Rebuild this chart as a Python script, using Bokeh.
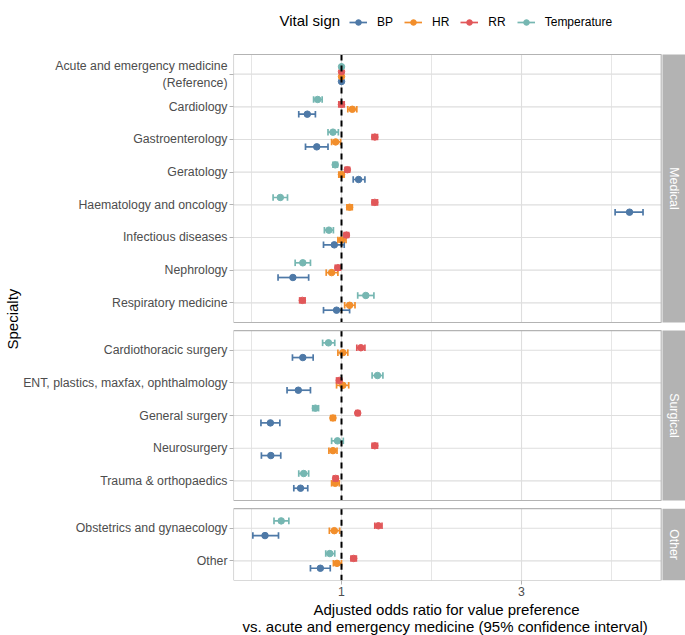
import math
from bokeh.plotting import figure
from bokeh.models import Range1d, FixedTicker, Legend, LegendItem, ColumnDataSource, Title
from bokeh.core.properties import value
from bokeh.embed import file_html
from bokeh.resources import INLINE

# ---------------- data ----------------
groups = ["Medical", "Surgical", "Other"]
medical = ["Acute and emergency medicine\n(Reference)", "Cardiology", "Gastroenterology",
           "Geratology", "Haematology and oncology", "Infectious diseases",
           "Nephrology", "Respiratory medicine"]
surgical = ["Cardiothoracic surgery", "ENT, plastics, maxfax, ophthalmology",
            "General surgery", "Neurosurgery", "Trauma & orthopaedics"]
other = ["Obstetrics and gynaecology", "Other"]

vital_signs = ["BP", "HR", "RR", "Temperature"]
colors = ["#4E79A7", "#F28E2B", "#E15759", "#76B7B2"]

# odds ratios (order: medical, surgical, other)
bp_or = [1.0, 0.62, 0.725, 1.19, 4.20, 0.92, 0.46, 0.945, 0.57, 0.52, 0.21, 0.215, 0.545, 0.15, 0.765]
bp_lo = [1.0, 0.525, 0.60, 1.13, 4.04, 0.80, 0.295, 0.80, 0.455, 0.395, 0.105, 0.11, 0.47, 0.015, 0.655]
bp_hi = [1.0, 0.71, 0.85, 1.26, 4.35, 1.03, 0.635, 1.09, 0.685, 0.655, 0.315, 0.325, 0.625, 0.30, 0.875]

hr_or = [1.0, 1.12, 0.935, 1.0, 1.09, 1.0, 0.89, 1.09, 1.015, 1.015, 0.905, 0.905, 0.93, 0.92, 0.95]
hr_lo = [1.0, 1.07, 0.89, 0.97, 1.06, 0.96, 0.83, 1.035, 0.96, 0.945, 0.88, 0.86, 0.89, 0.865, 0.91]
hr_hi = [1.0, 1.17, 0.99, 1.03, 1.12, 1.05, 0.96, 1.15, 1.07, 1.08, 0.93, 0.95, 0.975, 0.98, 1.0]

rr_or = [1.0, 1.0, 1.37, 1.065, 1.37, 1.055, 0.96, 0.565, 1.215, 0.975, 1.18, 1.37, 0.935, 1.41, 1.135]
rr_lo = [1.0, 0.97, 1.34, 1.04, 1.34, 1.03, 0.93, 0.535, 1.17, 0.945, 1.16, 1.34, 0.91, 1.37, 1.105]
rr_hi = [1.0, 1.03, 1.40, 1.09, 1.40, 1.08, 0.99, 0.595, 1.26, 1.0, 1.20, 1.40, 0.96, 1.45, 1.165]

temp_or = [1.0, 0.735, 0.905, 0.93, 0.32, 0.86, 0.57, 1.27, 0.855, 1.40, 0.71, 0.955, 0.58, 0.33, 0.87]
temp_lo = [1.0, 0.69, 0.85, 0.905, 0.24, 0.81, 0.485, 1.18, 0.79, 1.34, 0.68, 0.89, 0.525, 0.25, 0.825]
temp_hi = [1.0, 0.785, 0.965, 0.955, 0.40, 0.91, 0.655, 1.36, 0.925, 1.46, 0.745, 1.02, 0.635, 0.415, 0.925]

x_ticks = [1, 3]
x_minor = [0, 2, 4]
ref_value = 1

x_title_lines = ["Adjusted odds ratio for value preference",
                 "vs. acute and emergency medicine (95% confidence interval)"]
y_title = "Specialty"
legend_title = "Vital sign"

series = {
    "BP": (bp_or, bp_lo, bp_hi),
    "HR": (hr_or, hr_lo, hr_hi),
    "RR": (rr_or, rr_lo, rr_hi),
    "Temperature": (temp_or, temp_lo, temp_hi),
}

# ---------------- layout ----------------
FONT = "Liberation Sans"
STEP, EXP, GAP = 20, 12, 5
dodge = {"Temperature": -4.5, "RR": -1.5, "HR": 1.5, "BP": 4.5}
CAP = 2.0
X_START, PANEL_X_END, STRIP_L, X_END = -0.2, 4.552, 4.566, 4.822
Y_TOP = -33.1

panels = []
cat_y = []
cat_names = []
top = 0
for g, cats in zip(groups, [medical, surgical, other]):
    bottom = top + 2 * EXP + (len(cats) - 1) * STEP
    ys = [top + EXP + i * STEP for i in range(len(cats))]
    panels.append((g, top, bottom, ys))
    cat_y += ys
    cat_names += cats
    top = bottom + GAP
Y_BOTTOM = panels[-1][2]

p = figure(width=685, height=635, output_backend="svg", toolbar_location=None,
           x_range=Range1d(X_START, X_END), y_range=Range1d(Y_BOTTOM, Y_TOP),
           min_border_left=233, min_border_right=0, min_border_top=0, min_border_bottom=55)
p.outline_line_color = None
p.xgrid.visible = False
p.ygrid.visible = False
p.background_fill_color = "white"
p.border_fill_color = "white"

GRID = "#DEDEDE"
BORDER = "#B3B3B3"

# grids
for g, pt, pb, ys in panels:
    p.segment(x0=[X_START] * len(ys), x1=[PANEL_X_END] * len(ys), y0=ys, y1=ys,
              line_color=GRID, line_width=1.1)
    p.segment(x0=x_ticks, x1=x_ticks, y0=[pt] * len(x_ticks), y1=[pb] * len(x_ticks),
              line_color=GRID, line_width=1.1)
    p.segment(x0=x_minor, x1=x_minor, y0=[pt] * len(x_minor), y1=[pb] * len(x_minor),
              line_color=GRID, line_width=0.8)

# error bars + points
legend_items = []
for vs, col in zip(vital_signs, colors):
    o, lo, hi = series[vs]
    ys = [y + dodge[vs] for y in cat_y]
    src = ColumnDataSource(dict(o=o, lo=lo, hi=hi, y=ys,
                                yt=[y - CAP for y in ys], yb=[y + CAP for y in ys]))
    r_line = p.segment(x0="lo", x1="hi", y0="y", y1="y", source=src, line_color=col, line_width=1.7)
    p.segment(x0="lo", x1="lo", y0="yt", y1="yb", source=src, line_color=col, line_width=1.7)
    p.segment(x0="hi", x1="hi", y0="yt", y1="yb", source=src, line_color=col, line_width=1.7)
    r_pt = p.scatter(x="o", y="y", source=src, size=6.5, fill_color=col, line_color=col)
    legend_items.append(LegendItem(label=vs, renderers=[r_line, r_pt]))

# reference line, borders, strips
for g, pt, pb, ys in panels:
    p.segment(x0=[ref_value], x1=[ref_value], y0=[pt], y1=[pb], line_color="black",
              line_width=2, line_dash="6 5")
    p.quad(left=[X_START], right=[PANEL_X_END], top=[pt], bottom=[pb],
           fill_color=None, line_color=BORDER, line_width=1.1)
    p.quad(left=[STRIP_L], right=[X_END], top=[pt], bottom=[pb],
           fill_color=BORDER, line_color=None)
    p.text(x=[(STRIP_L + X_END) / 2], y=[(pt + pb) / 2], text=[g], angle=-math.pi / 2,
           text_color="white", text_align="center", text_baseline="middle",
           text_font=value(FONT), text_font_size="12.3px")

# legend
p.text(x=[0.311], y=[Y_TOP + 12.0], text=[legend_title], text_color="black",
       text_align="left", text_baseline="middle",
       text_font=value(FONT), text_font_size="15px")
legend = Legend(items=legend_items, orientation="horizontal", location=(116, 551),
                border_line_color=None, background_fill_alpha=0, padding=0, margin=0,
                spacing=11, glyph_width=18, glyph_height=14, label_standoff=10,
                label_height=14, label_width=1, label_text_font=FONT,
                label_text_font_size="12px", label_text_color="black")
p.add_layout(legend)

# axes
p.xaxis.ticker = FixedTicker(ticks=x_ticks, minor_ticks=[])
p.xaxis.axis_line_color = None
p.xaxis.major_tick_line_color = BORDER
p.xaxis.major_tick_out = 4
p.xaxis.major_tick_in = 0
p.xaxis.minor_tick_line_color = None
p.xaxis.major_label_text_font = FONT
p.xaxis.major_label_text_font_size = "12.3px"
p.xaxis.major_label_text_color = "#4D4D4D"
p.xaxis.major_label_standoff = 2

for line, off, so in zip(x_title_lines, [80, 9], [0, -4]):
    p.add_layout(Title(text=line, align="left", offset=off, standoff=so,
                       text_font=FONT, text_font_size="15px", text_font_style="normal",
                       text_color="black"), "below")

p.yaxis.ticker = FixedTicker(ticks=cat_y, minor_ticks=[])
p.yaxis.major_label_overrides = {y: n for y, n in zip(cat_y, cat_names)}
p.yaxis.axis_line_color = None
p.yaxis.major_tick_line_color = BORDER
p.yaxis.major_tick_out = 4
p.yaxis.major_tick_in = 0
p.yaxis.minor_tick_line_color = None
p.yaxis.major_label_text_font = FONT
p.yaxis.major_label_text_font_size = "12.3px"
p.yaxis.major_label_text_color = "#4D4D4D"
p.yaxis.major_label_standoff = 2

p.add_layout(Title(text=y_title, align="left", offset=231, standoff=0,
                   text_font=FONT, text_font_size="15px", text_font_style="normal",
                   text_color="black"), "left")

open("out.html", "w").write(file_html(p, INLINE))
